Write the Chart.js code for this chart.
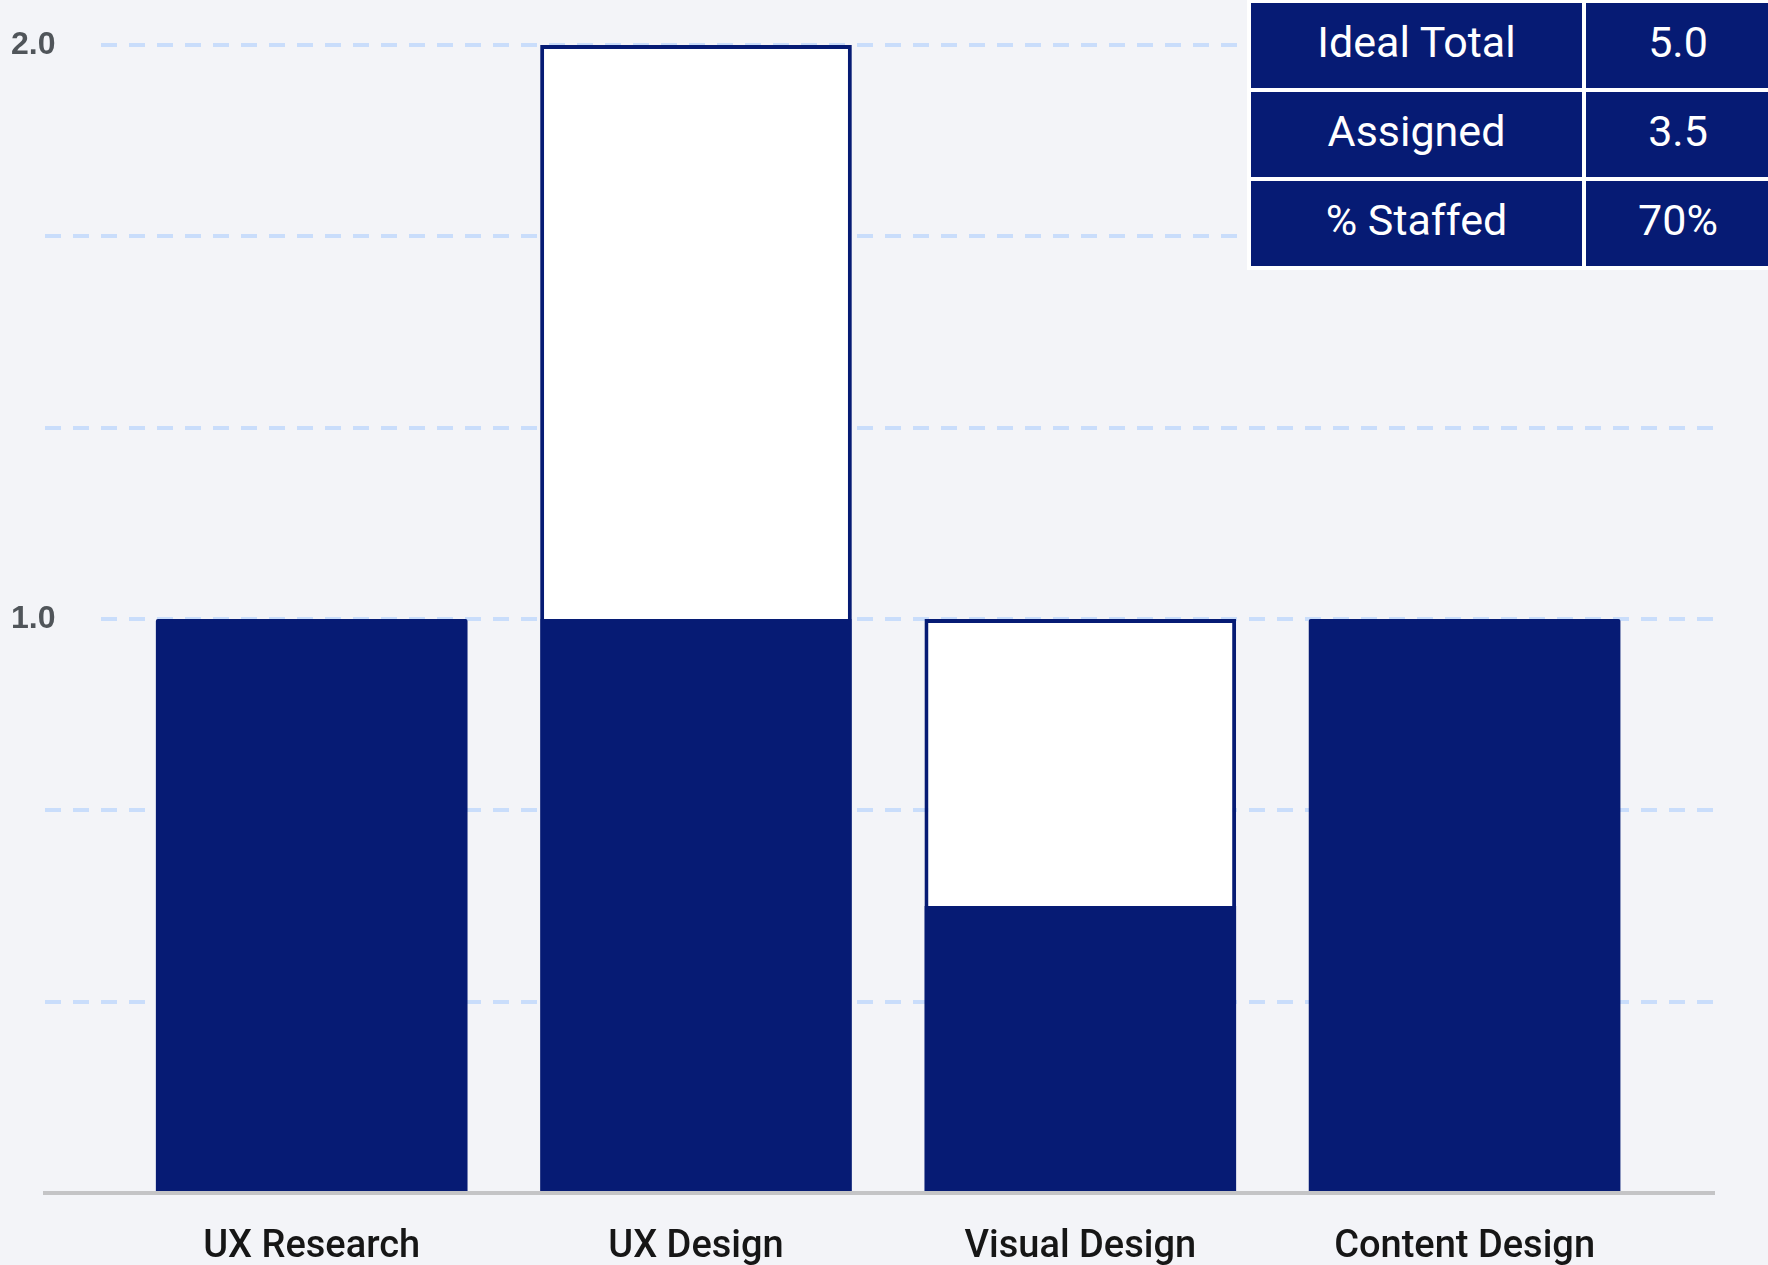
<!DOCTYPE html>
<html>
<head>
<meta charset="utf-8">
<script src="https://cdn.jsdelivr.net/npm/chart.js@4.4.1/dist/chart.umd.min.js"></script>
<style>
    html, body { margin: 0; padding: 0; background: #f3f4f8; overflow: hidden; }
    #wrap { position: relative; width: 1768px; height: 1265px; }
    #chart { position: absolute; left: 0; top: 0; }
    #summary { position: absolute; left: 1247px; top: -1px; width: 527px; table-layout: fixed;
               background: #fff; border-spacing: 4px;
               font-family: Roboto, sans-serif; font-size: 43px; color: #fff; }
    #summary td { background: #061b74; height: 77px; padding: 0 0 8px 0; text-align: center; white-space: nowrap; }
    #summary td.name { width: 331px; }
    #summary td.val { width: 184px; }
</style>
</head>
<body>
<div id="wrap">
    <canvas id="chart" width="1768" height="1265"></canvas>
    <table id="summary"><tbody id="summary-body"></tbody></table>
</div>
<script>
const categories = ['UX Research', 'UX Design', 'Visual Design', 'Content Design'];
const assigned = [1.0, 1.0, 0.5, 1.0];
const unfilled = [0, 1.0, 0.5, 0];
const labelledTicks = [1.0, 2.0];
const summaryLabels = ['Ideal Total', 'Assigned', '% Staffed'];
const summaryValues = ['5.0', '3.5', '70%'];

const navy = '#061b74';
const bg = '#f3f4f8';
const gridBlue = 'rgb(201, 221, 251)';

// summary table in the corner
const body = document.getElementById('summary-body');
summaryLabels.forEach((label, i) => {
    const row = document.createElement('tr');
    row.innerHTML = `<td class="name">${label}</td><td class="val">${summaryValues[i]}</td>`;
    body.appendChild(row);
});

function isLabelled(v) {
    return labelledTicks.some(t => Math.abs(t - v) < 1e-6);
}

const ctx = document.getElementById('chart').getContext('2d');
new Chart(ctx, {
    type: 'bar',
    data: {
        datasets: [
            {
                label: 'Assigned',
                data: assigned.map((v, i) => ({ x: i, y: v || null })),
                backgroundColor: navy,
                borderWidth: 0,
                borderRadius: 2
            },
            {
                label: 'Open',
                data: unfilled.map((v, i) => ({ x: i, y: v || null })),
                backgroundColor: '#ffffff',
                borderColor: navy,
                borderWidth: 4,
                borderSkipped: 'bottom'
            }
        ]
    },
    options: {
        responsive: false,
        animation: false,
        layout: { padding: { top: 45, left: 45, right: 54, bottom: 0 } },
        plugins: {
            legend: { display: false },
            tooltip: { enabled: false }
        },
        datasets: {
            bar: { categoryPercentage: 1, barPercentage: 0.811 }
        },
        scales: {
            x: {
                type: 'linear',
                offset: false,
                stacked: true,
                min: -0.694,
                max: 3.649,
                afterBuildTicks: scale => {
                    scale.ticks = categories.map((c, i) => ({ value: i }));
                },
                afterFit: scale => { scale.height = 72; },
                grid: { display: false },
                border: { display: true, color: '#c4c4c6', width: 4 },
                ticks: {
                    autoSkip: false,
                    maxRotation: 0,
                    padding: 24,
                    color: '#161616',
                    font: { family: 'Roboto', size: 38, weight: '500' },
                    callback: v => categories[v]
                }
            },
            y: {
                stacked: true,
                min: 0,
                max: 2,
                afterFit: scale => { scale.width = 0; },
                grid: {
                    drawTicks: false,
                    lineWidth: 4,
                    color: c => (c.tick && c.tick.value === 0) ? 'rgba(0,0,0,0)' : gridBlue
                },
                border: { display: false, dash: [16, 12] },
                ticks: {
                    stepSize: 1 / 3,
                    mirror: true,
                    padding: -34,
                    color: '#50555a',
                    font: { family: 'Liberation Sans', size: 32, weight: 'bold' },
                    showLabelBackdrop: true,
                    backdropColor: c => (c.tick && isLabelled(c.tick.value)) ? bg : 'rgba(0,0,0,0)',
                    backdropPadding: { left: 4, right: 40, top: 3, bottom: 3 },
                    callback: v => isLabelled(v) ? v.toFixed(1) : ''
                }
            }
        }
    }
});
</script>
</body>
</html>
